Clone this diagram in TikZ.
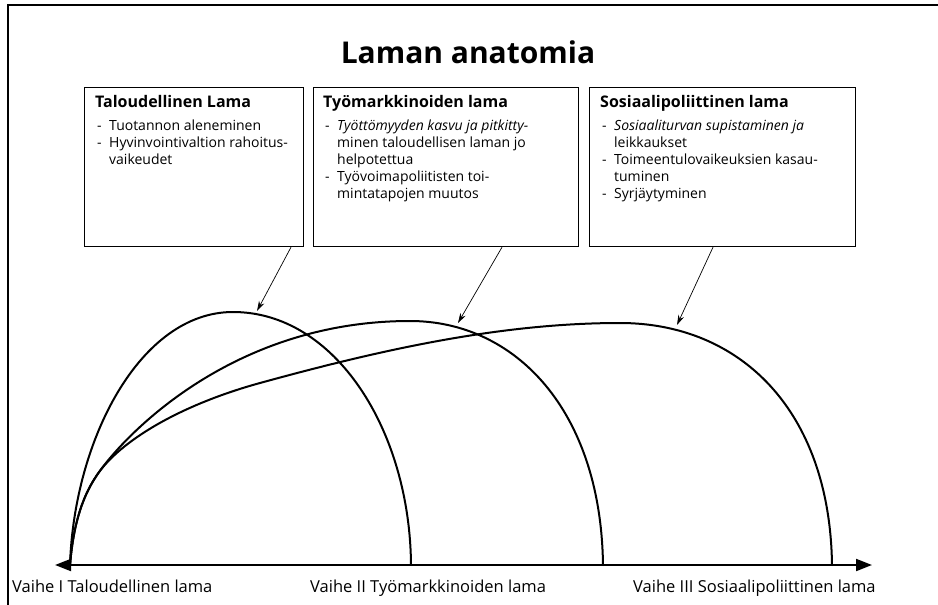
\documentclass[tikz,border=0pt]{standalone}
\usepackage{fontspec}
\setmainfont{Open Sans}
\usetikzlibrary{arrows.meta,calc}
\newcommand\hdtext[1]{{\fontsize{16}{20}\selectfont\bfseries #1}}
\begin{document}
\begin{tikzpicture}[x=1pt,y=-1pt,
  box/.style={draw, line width=1.2pt, minimum height=159pt, inner sep=0pt, anchor=north west},
  curve/.style={line width=2pt, line join=round, line cap=round},
  ptr/.style={line width=0.7pt, -{Stealth[length=10pt,width=6pt]}},
  axis/.style={line width=2pt, {Triangle[length=16pt,width=12pt]}-{Triangle[length=16pt,width=12pt]}},
  lbl/.style={font=\fontsize{16.5}{20}\selectfont, anchor=base west, inner sep=0pt},
  txt/.style={anchor=north west, inner sep=0pt, align=left, font=\fontsize{14}{17}\selectfont}
]
\useasboundingbox (0,0) rectangle (938,605);
\fill[white] (0,0) rectangle (938,605);
\draw[line width=1.2pt] (8,605) -- (8,5) -- (938,5);

\node[font=\fontsize{30}{34}\selectfont\bfseries] (title) at (468,52) {Laman anatomia};

\node[box, minimum width=219pt] (b1) at (84,87) {};
\node[box, minimum width=265pt] (b2) at (313,87) {};
\node[box, minimum width=266pt] (b3) at (589,87) {};

\node[txt] (t1) at ($(b1.north west)+(11,8)$) {%
\begin{tabular}{@{\hspace{2pt}}p{12pt}@{}l@{}}
\multicolumn{2}{@{}l@{}}{\hdtext{Taloudellinen Lama}}\\[6pt]
- & Tuotannon aleneminen\\
- & Hyvinvointivaltion rahoitus-\\
  & vaikeudet
\end{tabular}};

\node[txt] (t2) at ($(b2.north west)+(10,8)$) {%
\begin{tabular}{@{\hspace{2pt}}p{12pt}@{}l@{}}
\multicolumn{2}{@{}l@{}}{\hdtext{Työmarkkinoiden lama}}\\[6pt]
- & \textit{Työttömyyden kasvu ja pitkitty-}\\
  & minen taloudellisen laman jo\\
  & helpotettua\\
- & Työvoimapoliitisten toi-\\
  & mintatapojen muutos
\end{tabular}};

\node[txt] (t3) at ($(b3.north west)+(11,8)$) {%
\begin{tabular}{@{\hspace{2pt}}p{12pt}@{}l@{}}
\multicolumn{2}{@{}l@{}}{\hdtext{Sosiaalipoliittinen lama}}\\[6pt]
- & \textit{Sosiaaliturvan supistaminen ja}\\
  & leikkaukset\\
- & Toimeentulovaikeuksien kasau-\\
  & tuminen\\
- & Syrjäytyminen
\end{tabular}};

% curve anchor points
\coordinate (o) at (70,565);
\coordinate (m) at (97,475);
\coordinate (k1) at (233,312);
\coordinate (k2) at (410,321);
\coordinate (k3a) at (260,383);
\coordinate (k3) at (620,323);
\coordinate (e1) at (411,565);
\coordinate (e2) at (603,565);
\coordinate (e3) at (832,565);

% curves
\draw[curve] (o) .. controls (74,440) and (140,312) .. (k1)
                 .. controls (335,312) and (410,430) .. (e1);
\draw[curve] (o) .. controls (73,530) and (80,500) .. (m)
                 .. controls (122,438) and (230,321) .. (k2)
                 .. controls (515,321) and (601,410) .. (e2);
\draw[curve] (o) .. controls (73,530) and (80,500) .. (m)
                 .. controls (120,441) and (180,405) .. (k3a)
                 .. controls (380,350) and (500,323) .. (k3)
                 .. controls (740,323) and (830,410) .. (e3);

% axis
\coordinate (axL) at (55,565);
\coordinate (axR) at (872,565);
\draw[axis] (axL) -- (axR);

% pointers
\coordinate (p1) at (257,311);
\coordinate (p2) at (458,323);
\coordinate (p3) at (677,325);
\draw[ptr] ($(b1.south west)+(207,0)$) -- (p1);
\draw[ptr] ($(b2.south west)+(189,0)$) -- (p2);
\draw[ptr] ($(b3.south west)+(124,0)$) -- (p3);

% labels
\node[lbl] (l1) at (12,592) {Vaihe I Taloudellinen lama};
\node[lbl] (l2) at (310,592) {Vaihe II Työmarkkinoiden lama};
\node[lbl] (l3) at (633,592) {Vaihe III Sosiaalipoliittinen lama};
\end{tikzpicture}
\end{document}
